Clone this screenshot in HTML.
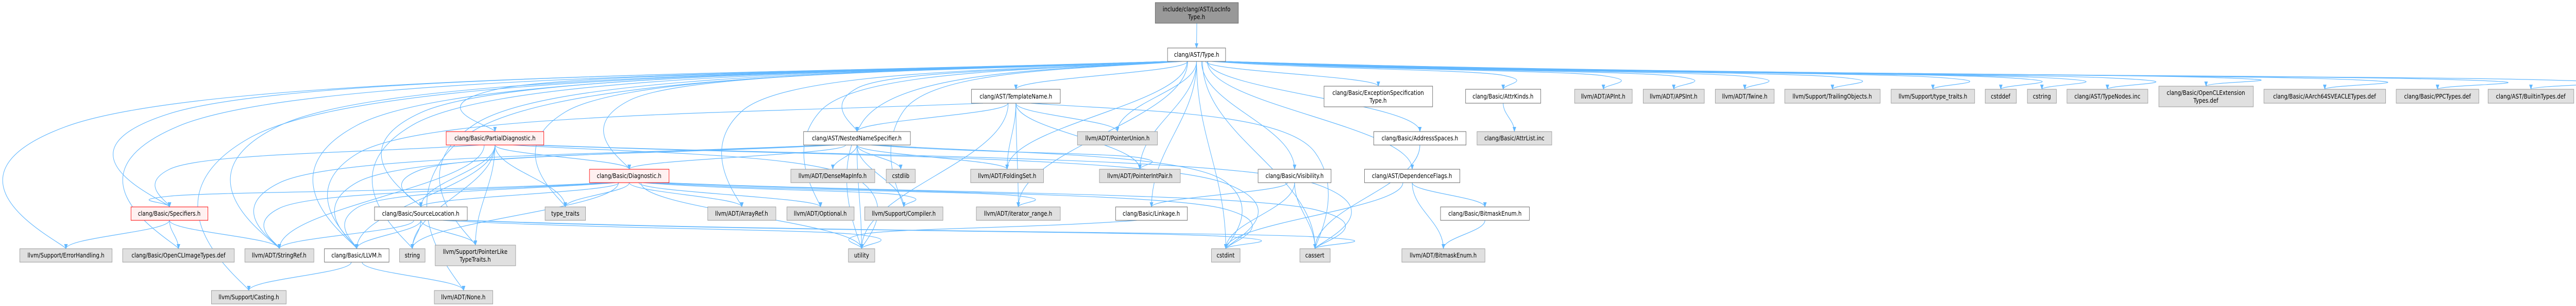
<!DOCTYPE html>
<html><head><meta charset="utf-8">
<style>
html,body{margin:0;padding:0;background:#fff;width:100%;height:100%;overflow:hidden;}
svg#d{display:block;width:100vw;height:100vh;}
text{font-family:"DejaVu Sans","Liberation Sans",sans-serif;font-size:12px;fill:#000;text-anchor:middle;}
.g{fill:#e0e0e0;stroke:#999;}
.w{fill:#fff;stroke:#666;}
.r{fill:#fff0f0;stroke:#f00;}
.root{fill:#999;stroke:#666;}
</style></head><body>
<svg id="d" viewBox="0 0 5860 593" preserveAspectRatio="none" xmlns="http://www.w3.org/2000/svg">
<defs><marker id="ah" markerWidth="10" markerHeight="8" refX="9" refY="4" orient="auto" markerUnits="userSpaceOnUse"><path d="M0,0 L10,4 L0,8 z" fill="#63b8ff"/></marker></defs>
<rect x="0" y="0" width="5860" height="593" fill="#fff"/>
<g id="eg" fill="none" stroke="#63b8ff" stroke-width="1.2"></g>
<g id="nodes">
<rect id="loc" class="root" x="2628" y="5" width="189" height="40"/><text x="2722" y="22">include/clang/AST/LocInfo</text><text x="2722" y="37">Type.h</text>
<rect id="type" class="w" x="2656" y="93" width="132" height="26"/><text x="2722" y="110">clang/AST/Type.h</text>

<rect id="tn" class="w" x="2210" y="173" width="202" height="27"/><text x="2311" y="191">clang/AST/TemplateName.h</text>
<rect id="exc" class="w" x="3012" y="167" width="247" height="40"/><text x="3135" y="184">clang/Basic/ExceptionSpecification</text><text x="3135" y="199">Type.h</text>
<rect id="attrk" class="w" x="3334" y="173" width="171" height="27"/><text x="3419" y="191">clang/Basic/AttrKinds.h</text>
<rect id="apint" class="g" x="3582" y="173" width="131" height="27"/><text x="3647" y="191">llvm/ADT/APInt.h</text>
<rect id="apsint" class="g" x="3738" y="173" width="139" height="27"/><text x="3807" y="191">llvm/ADT/APSInt.h</text>
<rect id="twine" class="g" x="3902" y="173" width="134" height="27"/><text x="3969" y="191">llvm/ADT/Twine.h</text>
<rect id="trail" class="g" x="4060" y="173" width="217" height="27"/><text x="4168" y="191">llvm/Support/TrailingObjects.h</text>
<rect id="stt" class="g" x="4302" y="173" width="190" height="27"/><text x="4397" y="191">llvm/Support/type_traits.h</text>
<rect id="cstddef" class="g" x="4516" y="173" width="71" height="27"/><text x="4551" y="191">cstddef</text>
<rect id="cstring" class="g" x="4612" y="173" width="66" height="27"/><text x="4645" y="191">cstring</text>
<rect id="tnodes" class="g" x="4702" y="173" width="184" height="27"/><text x="4794" y="191">clang/AST/TypeNodes.inc</text>
<rect id="oclext" class="g" x="4911" y="167" width="215" height="40"/><text x="5018" y="184">clang/Basic/OpenCLExtension</text><text x="5018" y="199">Types.def</text>
<rect id="sve" class="g" x="5150" y="173" width="277" height="27"/><text x="5288" y="191">clang/Basic/AArch64SVEACLETypes.def</text>
<rect id="ppc" class="g" x="5451" y="173" width="188" height="27"/><text x="5545" y="191">clang/Basic/PPCTypes.def</text>
<rect id="builtin" class="g" x="5660" y="173" width="195" height="27"/><text x="5757" y="191">clang/AST/BuiltinTypes.def</text>

<rect id="pd" class="r" x="1015" y="255" width="222" height="26"/><text x="1126" y="272">clang/Basic/PartialDiagnostic.h</text>
<rect id="nns" class="w" x="1828" y="255" width="243" height="26"/><text x="1949" y="272">clang/AST/NestedNameSpecifier.h</text>
<rect id="pu" class="g" x="2451" y="255" width="182" height="26"/><text x="2542" y="272">llvm/ADT/PointerUnion.h</text>
<rect id="as" class="w" x="3125" y="255" width="210" height="26"/><text x="3230" y="272">clang/Basic/AddressSpaces.h</text>
<rect id="attrl" class="g" x="3360" y="255" width="170" height="26"/><text x="3445" y="272">clang/Basic/AttrList.inc</text>

<rect id="diag" class="r" x="1341" y="328" width="181" height="26"/><text x="1431" y="345">clang/Basic/Diagnostic.h</text>
<rect id="dmi" class="g" x="1799" y="328" width="191" height="26"/><text x="1894" y="345">llvm/ADT/DenseMapInfo.h</text>
<rect id="cstdlib" class="g" x="2016" y="328" width="66" height="26"/><text x="2049" y="345">cstdlib</text>
<rect id="fs" class="g" x="2208" y="328" width="166" height="26"/><text x="2291" y="345">llvm/ADT/FoldingSet.h</text>
<rect id="pip" class="g" x="2501" y="328" width="184" height="26"/><text x="2593" y="345">llvm/ADT/PointerIntPair.h</text>
<rect id="vis" class="w" x="2862" y="328" width="166" height="26"/><text x="2945" y="345">clang/Basic/Visibility.h</text>
<rect id="dep" class="w" x="3104" y="328" width="217" height="26"/><text x="3212" y="345">clang/AST/DependenceFlags.h</text>

<rect id="spec" class="r" x="298" y="401" width="175" height="26"/><text x="385" y="418">clang/Basic/Specifiers.h</text>
<rect id="sl" class="w" x="852" y="401" width="211" height="26"/><text x="957" y="418">clang/Basic/SourceLocation.h</text>
<rect id="tt" class="g" x="1240" y="401" width="92" height="26"/><text x="1286" y="418">type_traits</text>
<rect id="ar" class="g" x="1610" y="401" width="155" height="26"/><text x="1687" y="418">llvm/ADT/ArrayRef.h</text>
<rect id="opt" class="g" x="1790" y="401" width="153" height="26"/><text x="1866" y="418">llvm/ADT/Optional.h</text>
<rect id="comp" class="g" x="1967" y="401" width="178" height="26"/><text x="2056" y="418">llvm/Support/Compiler.h</text>
<rect id="ir" class="g" x="2221" y="401" width="191" height="26"/><text x="2316" y="418">llvm/ADT/iterator_range.h</text>
<rect id="link" class="w" x="2538" y="401" width="163" height="26"/><text x="2619" y="418">clang/Basic/Linkage.h</text>
<rect id="cbe" class="w" x="3277" y="401" width="202" height="26"/><text x="3378" y="418">clang/Basic/BitmaskEnum.h</text>

<rect id="eh" class="g" x="45" y="482" width="210" height="26"/><text x="150" y="499">llvm/Support/ErrorHandling.h</text>
<rect id="ocl" class="g" x="279" y="482" width="254" height="26"/><text x="406" y="499">clang/Basic/OpenCLImageTypes.def</text>
<rect id="sr" class="g" x="557" y="482" width="157" height="26"/><text x="635" y="499">llvm/ADT/StringRef.h</text>
<rect id="llvm" class="w" x="738" y="482" width="147" height="26"/><text x="811" y="499">clang/Basic/LLVM.h</text>
<rect id="str" class="g" x="909" y="482" width="58" height="26"/><text x="938" y="499">string</text>
<rect id="plt" class="g" x="990" y="475" width="183" height="40"/><text x="1081" y="492">llvm/Support/PointerLike</text><text x="1081" y="507">TypeTraits.h</text>
<rect id="util" class="g" x="1930" y="482" width="60" height="26"/><text x="1960" y="499">utility</text>
<rect id="cstdint" class="g" x="2756" y="482" width="65" height="26"/><text x="2788" y="499">cstdint</text>
<rect id="cassert" class="g" x="2957" y="482" width="69" height="26"/><text x="2991" y="499">cassert</text>
<rect id="lbe" class="g" x="3189" y="482" width="189" height="26"/><text x="3283" y="499">llvm/ADT/BitmaskEnum.h</text>

<rect id="cast" class="g" x="481" y="563" width="170" height="26"/><text x="566" y="580">llvm/Support/Casting.h</text>
<rect id="none" class="g" x="988" y="563" width="133" height="26"/><text x="1054" y="580">llvm/ADT/None.h</text>
</g>
</svg>
<script>
(function(){
var E=[
["loc","type"],
["type","tn"],["type","exc"],["type","attrk"],["type","apint"],["type","apsint"],["type","twine"],["type","trail"],["type","stt"],["type","cstddef"],["type","cstring"],["type","tnodes"],["type","oclext"],["type","sve"],["type","ppc"],["type","builtin"],
["type","pd"],["type","nns"],["type","pu"],["type","as"],["type","diag"],["type","fs"],["type","pip"],["type","vis"],["type","dep"],
["type","spec"],["type","sl"],["type","tt"],["type","ar"],["type","opt"],["type","comp"],["type","ir"],["type","link"],
["type","eh"],["type","ocl"],["type","sr"],["type","llvm"],["type","str"],["type","plt"],["type","util"],["type","cstdint"],["type","cassert"],["type","cast"],["type","none"],
["tn","nns"],["tn","pu"],["tn","fs"],["tn","pip"],["tn","util"],["tn","ir"],["tn","cassert"],["tn","llvm"],
["nns","diag"],["nns","sl"],["nns","dmi"],["nns","cstdlib"],["nns","fs"],["nns","pip"],["nns","comp"],["nns","cstdint"],["nns","util"],["nns","sr"],["nns","llvm"],
["pd","diag"],["pd","sl"],["pd","tt"],["pd","sr"],["pd","llvm"],["pd","str"],["pd","util"],["pd","cassert"],["pd","cstdint"],["pd","spec"],["pd","plt"],
["diag","sl"],["diag","tt"],["diag","ar"],["diag","opt"],["diag","ir"],["diag","sr"],["diag","llvm"],["diag","str"],["diag","util"],["diag","cassert"],["diag","cstdint"],["diag","spec"],["diag","comp"],
["sl","sr"],["sl","llvm"],["sl","str"],["sl","plt"],["sl","util"],["sl","cstdint"],["sl","cassert"],
["spec","eh"],["spec","ocl"],["spec","sr"],
["llvm","cast"],["llvm","none"],
["vis","link"],["vis","cstdint"],["vis","cassert"],
["link","util"],
["dep","cbe"],["dep","lbe"],["dep","cstdint"],
["cbe","lbe"],["as","cassert"],["attrk","attrl"]
];
function box(id){var e=document.getElementById(id);return {x:+e.getAttribute("x"),y:+e.getAttribute("y"),w:+e.getAttribute("width"),h:+e.getAttribute("height")};}
var g=document.getElementById("eg"),ns="http://www.w3.org/2000/svg";
E.forEach(function(p){
 var a=box(p[0]),b=box(p[1]);
 var tx=b.x+b.w/2,ty=b.y;
 var sx=a.x+a.w/2,sy=a.y+a.h;
 var dx=tx-sx;
 if(Math.abs(dx)>a.w*1.5){sx=a.x+a.w/2+Math.max(-a.w/2+4,Math.min(a.w/2-4,dx*0.05));}
 var d;
 if(Math.abs(dx)>600){
   var my=sy+12+Math.min(40,Math.abs(dx)/200);
   d="M"+sx+","+sy+" C"+(sx+dx*0.35)+","+my+" "+(sx+dx*0.85)+","+my+" "+tx+","+(my+(ty-my)*0.3)+" S"+tx+","+(ty-10)+" "+tx+","+ty;
 } else {
   d="M"+sx+","+sy+" C"+sx+","+(sy+(ty-sy)*0.4)+" "+tx+","+(ty-(ty-sy)*0.4)+" "+tx+","+ty;
 }
 var el=document.createElementNS(ns,"path");el.setAttribute("d",d);el.setAttribute("marker-end","url(#ah)");g.appendChild(el);
});
})();
</script>
</body></html>
